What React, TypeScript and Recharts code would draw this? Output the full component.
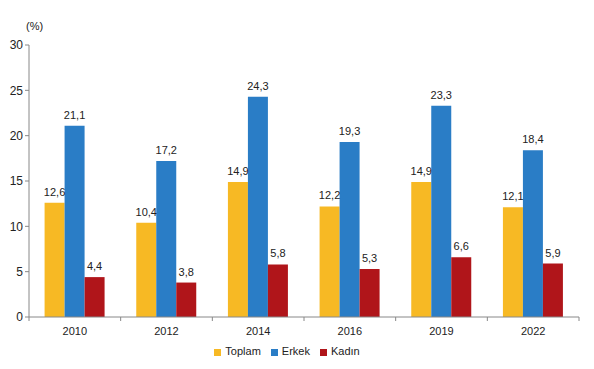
import { Bar, BarChart, LabelList, Legend, XAxis, YAxis } from 'recharts'

const years = ['2010', '2012', '2014', '2016', '2019', '2022']
const toplam = [12.6, 10.4, 14.9, 12.2, 14.9, 12.1]
const erkek = [21.1, 17.2, 24.3, 19.3, 23.3, 18.4]
const kadin = [4.4, 3.8, 5.8, 5.3, 6.6, 5.9]
const yTicks = [0, 5, 10, 15, 20, 25, 30]
const seriesOrder = ['Toplam', 'Erkek', 'Kadın']

const W = 594
const H = 369
const M = { top: 45, right: 15, left: 5, bottom: 0 }
const Y_W = 24
const halfBand = (W - M.left - M.right - Y_W) / years.length / 2

const data = years.map((y, i) => ({ year: y, Toplam: toplam[i], Erkek: erkek[i], Kadın: kadin[i] }))

const font = { fontFamily: 'Liberation Sans, Arial, sans-serif', fontSize: 11, fill: '#222' }
const fmt = (v: unknown) => String(v).replace('.', ',')

function XTick({ x, y, payload, index }: any) {
  return (
    <g>
      {index === 0 && <line x1={x - halfBand} x2={x - halfBand} y1={y - 8} y2={y - 4} stroke="#888" />}
      <line x1={x + halfBand} x2={x + halfBand} y1={y - 8} y2={y - 4} stroke="#888" />
      <text x={x} y={y + 10} textAnchor="middle" {...font}>{payload.value}</text>
    </g>
  )
}

export default function App() {
  return (
    <div style={{ position: 'absolute', left: 0, top: 0, width: W, height: H, background: '#fff' }}>
      <div style={{ position: 'absolute', left: 26, top: 20, fontFamily: 'Liberation Sans, Arial, sans-serif', fontSize: 11, color: '#222' }}>(%)</div>
      <BarChart width={W} height={H} data={data} margin={M} barCategoryGap="17%" barGap={0}>
        <XAxis dataKey="year" tickLine={false} stroke="#888" height={28} tick={<XTick />} />
        <YAxis width={Y_W} domain={[0, 30]} ticks={yTicks} stroke="#888" tickSize={4} tick={{ ...font, fontSize: 12 }} />
        <Legend verticalAlign="bottom" iconType="square" iconSize={7} height={24}
          itemSorter={(item: any) => seriesOrder.indexOf(item.value)}
          wrapperStyle={{ fontFamily: 'Liberation Sans, Arial, sans-serif', fontSize: 11, color: '#222', bottom: 0 }}
          formatter={(v: string) => <span style={{ color: '#222' }}>{v}</span>} />
        <Bar dataKey="Toplam" fill="#F7B924" isAnimationActive={false}>
          <LabelList dataKey="Toplam" position="top" offset={7} formatter={fmt} style={font} />
        </Bar>
        <Bar dataKey="Erkek" fill="#2A7DC6" isAnimationActive={false}>
          <LabelList dataKey="Erkek" position="top" offset={7} formatter={fmt} style={font} />
        </Bar>
        <Bar dataKey="Kadın" fill="#B0151A" isAnimationActive={false}>
          <LabelList dataKey="Kadın" position="top" offset={7} formatter={fmt} style={font} />
        </Bar>
      </BarChart>
    </div>
  )
}
